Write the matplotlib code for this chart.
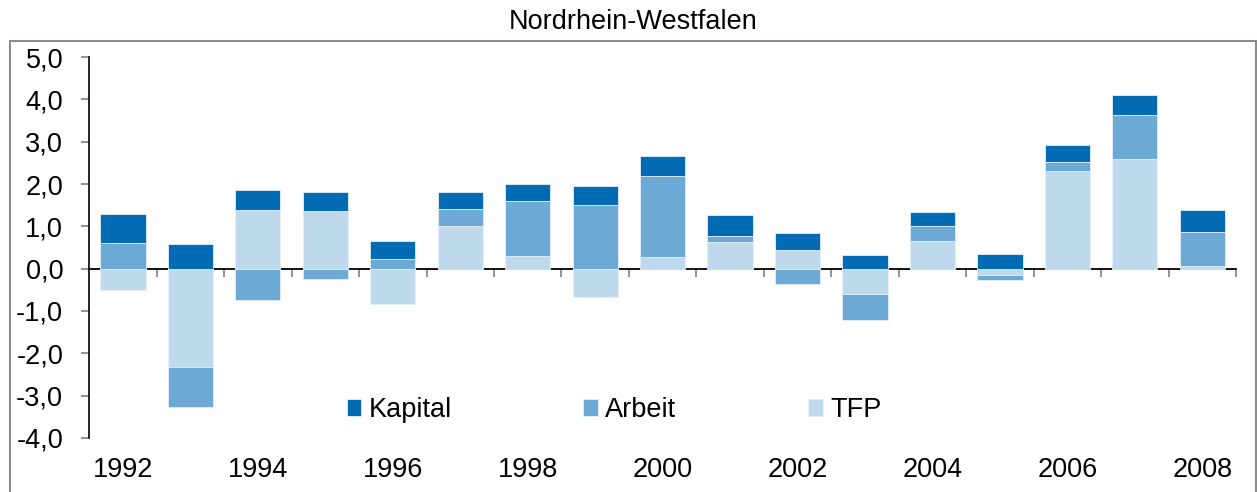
import numpy as np
import matplotlib
matplotlib.use("Agg")
import matplotlib.pyplot as plt
from matplotlib.patches import Rectangle
from matplotlib.ticker import FuncFormatter

plt.rcParams['font.family'] = ['Liberation Sans', 'DejaVu Sans']

jahre = list(range(1992, 2009))
tfp = [-0.51, -2.32, 1.38, 1.36, -0.83, 1.00, 0.30, -0.66, 0.27, 0.62,
       0.44, -0.59, 0.65, -0.16, 2.31, 2.59, 0.07]
arbeit = [0.60, -0.95, -0.74, -0.24, 0.24, 0.42, 1.29, 1.50, 1.91, 0.16,
          -0.36, -0.63, 0.35, -0.11, 0.20, 1.04, 0.80]
kapital = [0.70, 0.58, 0.49, 0.46, 0.41, 0.40, 0.40, 0.45, 0.48, 0.48,
           0.41, 0.33, 0.33, 0.34, 0.40, 0.47, 0.51]

farben = {"TFP": "#bfd9ec", "Arbeit": "#6ca9d5", "Kapital": "#036ab4"}
fs = 19.5

fig = plt.figure(figsize=(12.57, 4.92), dpi=100)
ax = fig.add_axes([0.0710, 0.1098, 0.9833 - 0.0710, 0.8841 - 0.1098])

x = np.arange(len(jahre))
pos = np.zeros(len(jahre))
neg = np.zeros(len(jahre))
bars = {}
for name, werte in [("TFP", tfp), ("Arbeit", arbeit), ("Kapital", kapital)]:
    w = np.array(werte)
    unten = np.where(w >= 0, pos, neg)
    bars[name] = ax.bar(x, w, bottom=unten, width=0.67, color=farben[name],
                        edgecolor="#e4eff8", linewidth=0.6, zorder=2)
    pos = pos + np.where(w >= 0, w, 0)
    neg = neg + np.where(w < 0, w, 0)

ax.set_xlim(-0.5, len(jahre) - 0.5)
ax.set_ylim(-4, 5)
ax.set_yticks(np.arange(-4, 6, 1))
ax.yaxis.set_major_formatter(FuncFormatter(lambda v, p: f"{v:.1f}".replace(".", ",")))
ax.tick_params(axis="y", direction="out", length=5.8, width=1.2, color="#808080",
               labelsize=fs, pad=13)
for s in ["top", "right", "bottom"]:
    ax.spines[s].set_visible(False)
ax.spines["left"].set_linewidth(1.2)

# Jahreszahlen unten
ax.set_xticks([])
for i, j in enumerate(jahre):
    if j % 2 == 0:
        ax.text(i, -0.084, str(j), transform=ax.get_xaxis_transform(),
                ha="center", va="center", fontsize=fs)

# Achse bei 0 mit Strichen zwischen den Kategorien
sec = ax.secondary_xaxis(4 / 9)
sec.set_xticks(np.arange(0.5, len(jahre), 1.0))
sec.set_xticklabels([])
sec.tick_params(direction="out", length=5.8, width=1.2, color="#808080")
sec.spines["bottom"].set_linewidth(1.3)

leg = ax.legend([bars["Kapital"], bars["Arbeit"], bars["TFP"]],
                ["Kapital", "Arbeit", "TFP"], ncol=3, frameon=False,
                fontsize=fs, loc="center left",
                bbox_to_anchor=(333 / 1257, 1 - 410 / 492),
                bbox_transform=fig.transFigure, borderpad=0,
                handlelength=0.55, handleheight=0.55, handletextpad=0.26,
                columnspacing=4.86)

fig.text(0.504, 1 - 22 / 492, "Nordrhein-Westfalen", ha="center", va="center",
         fontsize=fs)

rahmen = Rectangle((10 / 1257, -0.01), (1256 - 10) / 1257, (492 - 41) / 492 + 0.01,
                   transform=fig.transFigure, fill=False, edgecolor="#8c8c8c",
                   linewidth=1.5)
fig.patches.append(rahmen)

fig.savefig("out.png", dpi=100)
